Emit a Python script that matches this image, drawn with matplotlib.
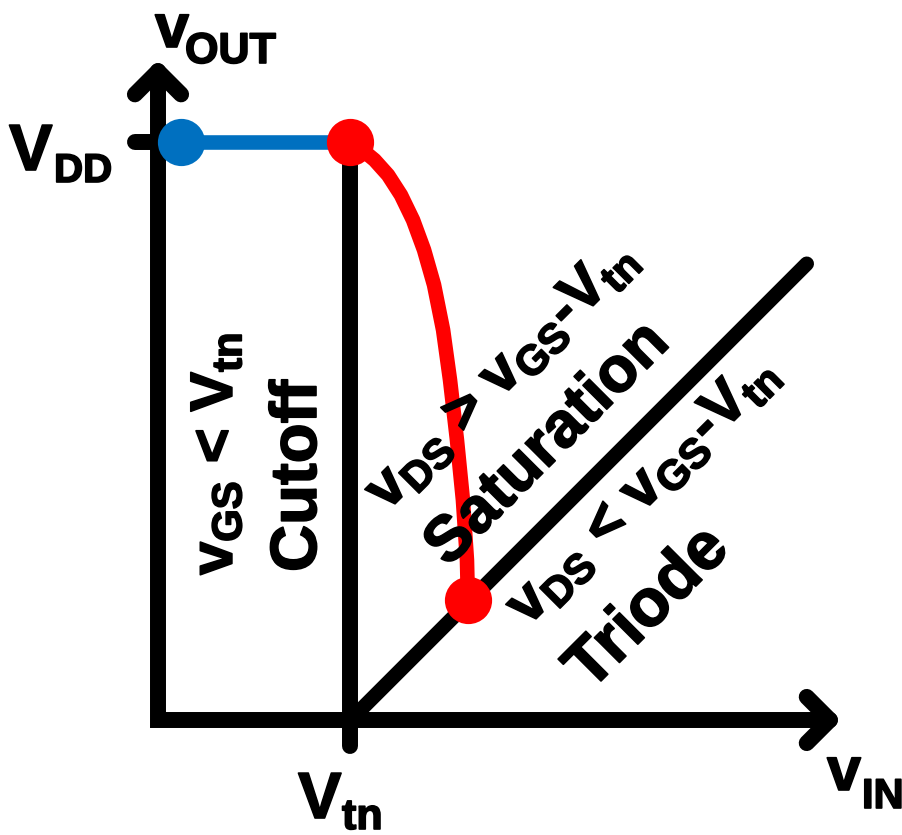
import matplotlib
matplotlib.use("Agg")
import matplotlib.pyplot as plt
import matplotlib.patheffects as pe

plt.rcParams['font.family'] = ['Liberation Sans', 'DejaVu Sans']
plt.rcParams['font.weight'] = 'bold'
plt.rcParams['mathtext.fontset'] = 'custom'
plt.rcParams['mathtext.rm'] = 'Liberation Sans:bold'
plt.rcParams['mathtext.it'] = 'Liberation Sans:bold'
plt.rcParams['mathtext.bf'] = 'Liberation Sans:bold'
plt.rcParams['mathtext.sf'] = 'Liberation Sans:bold'

# ---------------- data (volts, schematic units) ----------------
VTN = 1.0
VDD = 3.0
VIN_AXIS_END = 3.49
VOUT_AXIS_END = 3.37

cutoff_vin = [0.12, 1.0]
cutoff_vout = [3.0, 3.0]

sat_vin = [1.000, 1.062, 1.125, 1.195, 1.262, 1.325, 1.382, 1.434, 1.481,
           1.517, 1.553, 1.584, 1.605, 1.610]
sat_vout = [3.000, 2.961, 2.909, 2.831, 2.727, 2.597, 2.442, 2.260, 2.026,
            1.766, 1.455, 1.143, 0.831, 0.623]

edge_vin = [1.0, 3.37]
edge_vout = [v - VTN for v in edge_vin]

vtn_line_vout = [-0.136, VDD]

# ---------------- figure ----------------
W, H = 903, 835
ORX, ORY, S = 158, 720, 192.5   # pixel origin and px per volt
fig = plt.figure(figsize=(W / 100, H / 100), dpi=100)
ax = fig.add_axes([0, 0, 1, 1])
ax.set_xlim(-ORX / S, (W - ORX) / S)
ax.set_ylim(-(H - ORY) / S, ORY / S)
ax.axis('off')

LW_AX = 11.5
LW = 10.5
ARM = 0.12

# axes
ax.plot([0, 0, VIN_AXIS_END], [VOUT_AXIS_END, 0, 0], color='black', lw=LW_AX,
        solid_capstyle='round', solid_joinstyle='miter', zorder=2)
ax.plot([-ARM, 0, ARM], [VOUT_AXIS_END - ARM, VOUT_AXIS_END, VOUT_AXIS_END - ARM],
        color='black', lw=LW_AX, solid_capstyle='round', solid_joinstyle='round', zorder=2)
ax.plot([VIN_AXIS_END - ARM, VIN_AXIS_END, VIN_AXIS_END - ARM], [ARM, 0, -ARM],
        color='black', lw=LW_AX, solid_capstyle='round', solid_joinstyle='round', zorder=2)
# VDD tick
ax.plot([-0.119, 0], [VDD, VDD], color='black', lw=LW_AX, solid_capstyle='round', zorder=2)
# Vtn vertical line
ax.plot([VTN, VTN], vtn_line_vout, color='black', lw=LW_AX, solid_capstyle='round', zorder=2)
# saturation/triode boundary
ax.plot(edge_vin, edge_vout, color='black', lw=LW, solid_capstyle='round', zorder=2)

# transfer curve
ax.plot(cutoff_vin, cutoff_vout, color='#0070C0', lw=LW, zorder=3)
ax.plot(sat_vin, sat_vout, color='#FF0000', lw=LW, solid_capstyle='round',
        solid_joinstyle='round', zorder=3)
ax.plot([cutoff_vin[0]], [cutoff_vout[0]], 'o', color='#0070C0', ms=34, mew=0, zorder=4)
ax.plot([sat_vin[0], sat_vin[-1]], [sat_vout[0], sat_vout[-1]], 'o', color='#FF0000',
        ms=34, mew=0, zorder=4)

# ---------------- text ----------------
def P(x, y):
    return (x / W, 1 - y / H)

EFF = [pe.withStroke(linewidth=1.2, foreground='black')]

def txt(x, y, s, size, rot=0):
    ax.text(*P(x, y), s, transform=ax.transAxes, fontsize=size, fontweight='bold',
            ha='left', va='baseline', rotation=rot, rotation_mode='anchor', zorder=5,
            path_effects=EFF)

txt(9, 170, 'V', 47)
txt(54, 182, 'DD', 29)
txt(155, 47, 'v', 44)
txt(185, 63, 'OUT', 31)
txt(298, 818, 'V', 47)
txt(342, 829, 'tn', 31)
txt(827, 790, 'v', 44)
txt(862, 808, 'IN', 30)

txt(232, 575, r'$v_{GS}$ < $V_{tn}$', 43, rot=90)
txt(316, 572, 'Cutoff', 47, rot=90)
txt(387, 512, r'$v_{DS}$ > $v_{GS}$-$V_{tn}$', 43, rot=45)
txt(448, 568, 'Saturation', 46, rot=45)
txt(528, 627, r'$v_{DS}$ < $v_{GS}$-$V_{tn}$', 43, rot=45)
txt(590, 692, 'Triode', 48, rot=45)

fig.savefig('out.png', dpi=100)
